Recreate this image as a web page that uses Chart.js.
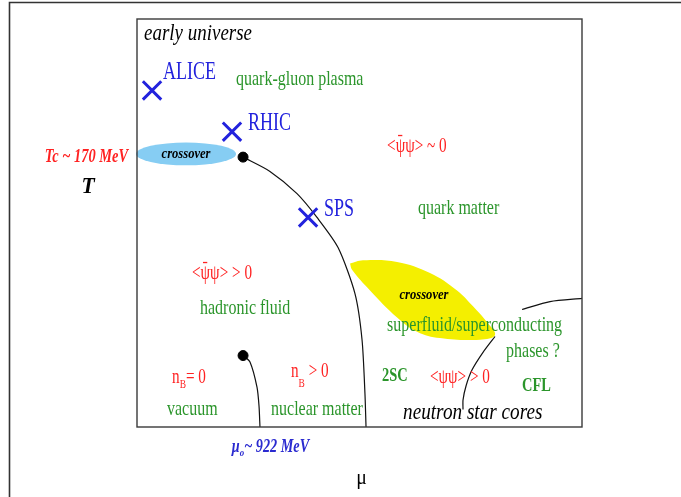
<!DOCTYPE html>
<html>
<head>
<meta charset="utf-8">
<script src="https://cdn.jsdelivr.net/npm/chart.js@4/dist/chart.umd.min.js"></script>
<style>
  html, body { margin: 0; padding: 0; background: #fff; }
  #wrap { width: 681px; height: 497px; position: relative; }
</style>
</head>
<body>
<div id="wrap"><canvas id="c"></canvas></div>
<script>
// QCD phase diagram: temperature T (MeV) versus baryon chemical potential mu (MeV)
const muRange = [0, 3340];
const tRange = [0, 257];

// chiral transition line, starting at the critical end point
const criticalMu = [796, 998, 1201, 1351, 1509, 1636, 1689, 1711, 1719];
const criticalT  = [170, 161, 147, 132, 113, 84, 55, 21, 0];

// liquid-gas line of nuclear matter, ending at mu0 ~ 922 MeV
const nuclearMu = [796, 848, 901, 916, 923];
const nuclearT  = [45, 41, 25, 13, 0];

// boundary between 2SC and CFL
const scMu = [2687, 2597, 2515, 2470, 2447, 2447];
const scT  = [57, 47, 36, 26, 17, 11];

// upper edge of the colour-superconducting region
const cflMu = [2890, 3100, 3340];
const cflT  = [74, 79, 81];

// end points of the two transition lines
const endpointMu = [796, 796];
const endpointT  = [170, 45];

// heavy-ion experiments
const experiments = ['ALICE', 'RHIC', 'SPS'];
const expMu = [113, 713, 1284];
const expT  = [212, 186, 132];

// high-density crossover band (outline)
const bandMu = [1599, 1696, 1952, 2199, 2402, 2522, 2627, 2687, 2575, 2274, 2102, 1952, 1749, 1614, 1599];
const bandT  = [103, 105, 104, 97, 86, 76, 66, 58, 55, 56, 60, 69, 86, 99, 103];

// low-density crossover region at Tc
const crossoverMu = 368, crossoverT = 172, crossoverHalfMu = 375, crossoverHalfT = 7.2;
const Tc = 170, mu0 = 922;

const pts = (xs, ys) => xs.map((x, i) => ({ x, y: ys[i] }));

const GREEN = '#2b952b', RED = '#ff2222', BLUE = '#2222dd', SERIF = '"Liberation Serif", "Times New Roman", serif';

// draws horizontally condensed serif text; parts may carry subscripts
function text(ctx, parts, x, y, o) {
  const size = o.size || 20, sx = o.sx || 0.8;
  const font = (s) => `${o.style || 'normal'} ${o.weight || 'normal'} ${s}px ${SERIF}`;
  if (typeof parts === 'string') parts = [{ t: parts }];
  ctx.save();
  ctx.fillStyle = o.color || '#000';
  ctx.textBaseline = 'middle';
  ctx.textAlign = 'left';
  let w = 0;
  parts.forEach(p => { ctx.font = font(p.sub ? size * 0.62 : size); w += ctx.measureText(p.t).width * sx; });
  let cx = x;
  if (o.align === 'center') cx = x - w / 2;
  if (o.align === 'right') cx = x - w;
  parts.forEach(p => {
    const s = p.sub ? size * 0.62 : size;
    ctx.font = font(s);
    const dy = p.sub ? size * (p.drop || 0.42) : 0;
    ctx.save();
    ctx.translate(cx, y + dy);
    ctx.scale(sx, 1);
    ctx.fillText(p.t, 0, 0);
    if (p.bar) {
      // overbar on the first psi of the condensate
      const pre = ctx.measureText(p.bar[0]).width;
      const bw = ctx.measureText(p.bar[1]).width;
      ctx.fillRect(pre + bw * 0.25, -s * 0.53, bw * 0.45, 1.3);
    }
    ctx.restore();
    cx += ctx.measureText(p.t).width * sx;
  });
  ctx.restore();
}

const annotations = {
  id: 'annotations',
  beforeDatasetsDraw(chart) {
    const { ctx, scales: { x, y } } = chart;
    // light blue crossover ellipse
    ctx.save();
    ctx.fillStyle = '#86cdf3';
    ctx.beginPath();
    ctx.ellipse(x.getPixelForValue(crossoverMu), y.getPixelForValue(crossoverT),
      x.getPixelForValue(crossoverMu + crossoverHalfMu) - x.getPixelForValue(crossoverMu),
      y.getPixelForValue(crossoverT) - y.getPixelForValue(crossoverT + crossoverHalfT), 0, 0, Math.PI * 2);
    ctx.fill();
    ctx.restore();
  },
  afterDatasetsDraw(chart) {
    const { ctx, chartArea: a, scales: { x, y } } = chart;
    const X = v => x.getPixelForValue(v), Y = v => y.getPixelForValue(v);

    // page frame and plot frame
    ctx.save();
    ctx.strokeStyle = '#333';
    ctx.lineWidth = 1.6;
    ctx.beginPath();
    ctx.moveTo(9.5, 497); ctx.lineTo(9.5, 2.5); ctx.lineTo(681, 2.5);
    ctx.stroke();
    ctx.strokeStyle = '#3a3a3a';
    ctx.lineWidth = 1.4;
    ctx.strokeRect(a.left, a.top, a.right - a.left, a.bottom - a.top);
    ctx.restore();

    const G = { size: 22, color: GREEN, sx: 0.727 };
    const R = { size: 21, color: RED, sx: 0.724 };

    // region labels
    text(ctx, 'early universe', X(53), Y(248), { size: 24, style: 'italic', sx: 0.79 });
    experiments.forEach((name, i) => {
      const off = name === 'ALICE' ? [82, 11.5] : [120, 5];
      text(ctx, name, X(expMu[i] + off[0]), Y(expT[i] + off[1]), { size: 25, color: BLUE, sx: 0.72 });
    });
    text(ctx, 'quark-gluon plasma', X(743), Y(219), G);
    text(ctx, 'crossover', X(crossoverMu), Y(crossoverT), { size: 14, style: 'italic', weight: 'bold', align: 'center', sx: 0.9 });
    text(ctx, [{ t: '<ψψ> ~ 0', bar: ['<', 'ψ'] }], X(1877), Y(177), R);
    text(ctx, 'quark matter', X(2109), Y(138), G);
    text(ctx, [{ t: '<ψψ> > 0', bar: ['<', 'ψ'] }], X(413), Y(97), R);
    text(ctx, 'hadronic fluid', X(473), Y(75), G);
    text(ctx, 'crossover', X(2154), Y(83), { size: 14, style: 'italic', weight: 'bold', align: 'center', sx: 0.9 });
    text(ctx, 'superfluid/superconducting', X(1877), Y(64), G);
    text(ctx, 'phases ?', X(2770), Y(48), G);
    text(ctx, [{ t: 'n' }, { t: 'B', sub: true, drop: 0.3 }, { t: '= 0' }], X(263), Y(31), R);
    text(ctx, [{ t: 'n' }, { t: 'B', sub: true, drop: 0.6 }, { t: ' > 0' }], X(1156), Y(35), R);
    text(ctx, '2SC', X(1839), Y(32), { size: 19, weight: 'bold', color: GREEN, sx: 0.76 });
    text(ctx, '<ψψ> > 0', X(2199), Y(31.5), R);
    text(ctx, 'CFL', X(2890), Y(26), { size: 19, weight: 'bold', color: GREEN, sx: 0.76 });
    text(ctx, 'vacuum', X(225), Y(11), G);
    text(ctx, 'nuclear matter', X(1006), Y(11), G);
    text(ctx, 'neutron star cores', X(1997), Y(9), { size: 24, style: 'italic', sx: 0.8 });

    // axis annotations outside the frame
    text(ctx, 'Tc ~ 170 MeV', a.left - 9, Y(Tc), { size: 18, style: 'italic', weight: 'bold', color: RED, align: 'right' });
    text(ctx, 'T', a.left - 49, Y(Tc) + 30, { size: 24, style: 'italic', weight: 'bold', align: 'center', sx: 0.9 });
    text(ctx, [{ t: 'μ' }, { t: 'o', sub: true, drop: 0.35 }, { t: '~ 922 MeV' }], X(mu0) - 28, a.bottom + 20,
      { size: 18, style: 'italic', weight: 'bold', color: '#2a2ad0', sx: 0.79 });
    text(ctx, 'μ', (a.left + a.right) / 2 + 2, a.bottom + 51, { size: 22, align: 'center', sx: 0.9 });
  }
};

const line = (data) => ({
  data, showLine: true, borderColor: '#111', borderWidth: 1.2, pointRadius: 0, tension: 0.25, fill: false
});

new Chart(document.getElementById('c'), {
  type: 'scatter',
  data: {
    datasets: [
      { data: pts(endpointMu, endpointT), pointRadius: 5, pointBackgroundColor: '#000', pointBorderColor: '#000', showLine: false },
      { data: pts(expMu, expT), pointStyle: 'crossRot', pointRadius: 13, pointBorderColor: BLUE, pointBorderWidth: 3, showLine: false },
      line(pts(criticalMu, criticalT)),
      line(pts(nuclearMu, nuclearT)),
      line(pts(scMu, scT)),
      line(pts(cflMu, cflT)),
      { data: pts(bandMu, bandT), showLine: true, borderWidth: 0, borderColor: 'rgba(0,0,0,0)', pointRadius: 0,
        tension: 0.4, fill: 'shape', backgroundColor: '#f4ef00' }
    ]
  },
  options: {
    responsive: true,
    maintainAspectRatio: false,
    animation: false,
    events: [],
    layout: { padding: { left: 137, top: 19, right: 99, bottom: 70 } },
    scales: {
      x: { type: 'linear', min: muRange[0], max: muRange[1], display: false },
      y: { type: 'linear', min: tRange[0], max: tRange[1], display: false }
    },
    plugins: { legend: { display: false }, tooltip: { enabled: false } }
  },
  plugins: [annotations]
});
</script>
</body>
</html>
